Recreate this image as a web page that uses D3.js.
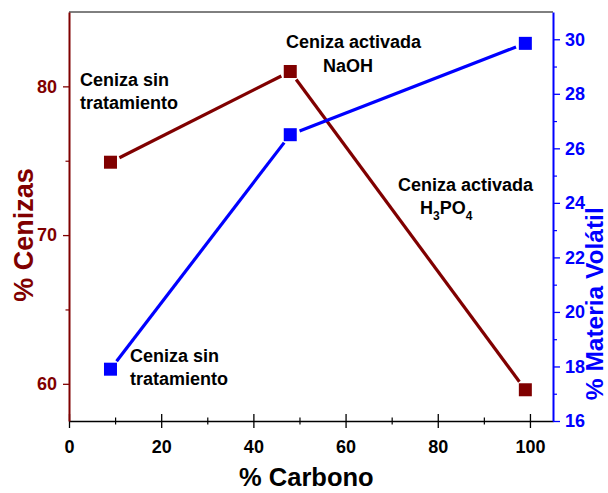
<!DOCTYPE html>
<html>
<head>
<meta charset="utf-8">
<script src="https://cdn.jsdelivr.net/npm/d3@7"></script>
<style>
  body { margin: 0; background: #fff; }
  svg text { font-family: Arial, "Liberation Sans", sans-serif; font-weight: bold; }
</style>
</head>
<body>
<div id="chart"></div>
<script>
// chart data
var carbono        = [9, 48, 99];          // % Carbono (x)
var cenizas        = [74.9, 81, 59.6];     // % Cenizas (left axis)
var materiaVolatil = [17.9, 26.5, 29.85];  // % Materia Volátil (right axis)

var xTicks      = [0, 20, 40, 60, 80, 100];
var xMinorTicks = [10, 30, 50, 70, 90];
var leftTicks      = [60, 70, 80];
var leftMinorTicks = [65, 75];
var rightTicks      = [16, 18, 20, 22, 24, 26, 28, 30];
var rightMinorTicks = [17, 19, 21, 23, 25, 27, 29];

var RED  = "#800000",
    BLUE = "#0000ff";

var W = 608, H = 493;
var margin = {top: 12, right: 55, bottom: 72, left: 69},
    width  = W - margin.left - margin.right,
    height = H - margin.top - margin.bottom;

var x = d3.scaleLinear().domain([0, 105]).range([margin.left, margin.left + width]);
var yL = d3.scaleLinear().domain([57.5, 85]).range([margin.top + height, margin.top]);
var yR = d3.scaleLinear().domain([16, 31]).range([margin.top + height, margin.top]);

var svg = d3.select("#chart").append("svg")
            .attr("width", W)
            .attr("height", H);

var x0 = margin.left, x1 = margin.left + width,
    yTop = margin.top, yBot = margin.top + height;

// top frame line
svg.append("line")
   .attr("x1", x0).attr("x2", x1)
   .attr("y1", yTop).attr("y2", yTop)
   .attr("stroke", "#000").attr("stroke-width", 1);

/* ---------- bottom axis ---------- */
var gx = svg.append("g")
            .attr("transform", "translate(0," + yBot + ")")
            .call(d3.axisBottom(x).tickValues(xTicks).tickSize(7).tickSizeOuter(0).tickPadding(12));
gx.selectAll(".tick line").attr("y1", -7).attr("stroke-width", 1.3);
gx.select(".domain").attr("stroke-width", 1.5);
gx.selectAll("text").attr("font-size", 18).attr("fill", "#000");

var gxm = svg.append("g")
             .attr("transform", "translate(0," + yBot + ")")
             .call(d3.axisBottom(x).tickValues(xMinorTicks).tickSize(3.5).tickFormat(""));
gxm.select(".domain").remove();
gxm.selectAll(".tick line").attr("y1", -3.5).attr("stroke-width", 1.2);

/* ---------- left axis ---------- */
var gl = svg.append("g")
            .attr("transform", "translate(" + x0 + ",0)")
            .call(d3.axisLeft(yL).tickValues(leftTicks).tickSize(6).tickSizeOuter(0).tickPadding(6));
gl.select(".domain").attr("stroke", RED).attr("stroke-width", 2);
gl.selectAll(".tick line").attr("stroke", RED).attr("stroke-width", 1.3);
gl.selectAll("text").attr("font-size", 18).attr("fill", RED);

var glm = svg.append("g")
             .attr("transform", "translate(" + x0 + ",0)")
             .call(d3.axisLeft(yL).tickValues(leftMinorTicks).tickSize(3.5).tickFormat(""));
glm.select(".domain").remove();
glm.selectAll(".tick line").attr("stroke", RED).attr("stroke-width", 1.2);

/* ---------- right axis ---------- */
var gr = svg.append("g")
            .attr("transform", "translate(" + x1 + ",0)")
            .call(d3.axisRight(yR).tickValues(rightTicks).tickSize(7).tickSizeOuter(0).tickPadding(5));
gr.select(".domain").attr("stroke", BLUE).attr("stroke-width", 2);
gr.selectAll(".tick line").attr("stroke", BLUE).attr("stroke-width", 1.3);
gr.selectAll("text").attr("font-size", 18).attr("fill", BLUE);

var grm = svg.append("g")
             .attr("transform", "translate(" + x1 + ",0)")
             .call(d3.axisRight(yR).tickValues(rightMinorTicks).tickSize(4).tickFormat(""));
grm.select(".domain").remove();
grm.selectAll(".tick line").attr("stroke", BLUE).attr("stroke-width", 1.2);

/* ---------- axis titles ---------- */
svg.append("text")
   .attr("transform", "translate(33," + (yL(70)) + ") rotate(-90)")
   .attr("text-anchor", "middle")
   .attr("font-size", 27)
   .attr("fill", RED)
   .text("% Cenizas");

svg.append("text")
   .attr("transform", "translate(603," + (yR(20.3)) + ") rotate(-90)")
   .attr("text-anchor", "middle")
   .attr("font-size", 24.5)
   .attr("fill", BLUE)
   .text("% Materia Volátil");

svg.append("text")
   .attr("x", x(51.5))
   .attr("y", 486)
   .attr("text-anchor", "middle")
   .attr("font-size", 25.5)
   .attr("fill", "#000")
   .text("% Carbono");

/* ---------- series ---------- */
function drawSeries(xs, ys, yScale, color) {
    var pts = xs.map(function(d, i) { return [x(d), yScale(ys[i])]; });
    var gap = 10; // line stops short of the markers

    for (var i = 0; i < pts.length - 1; i++) {
        var a = pts[i], b = pts[i + 1];
        var dx = b[0] - a[0], dy = b[1] - a[1];
        var len = Math.sqrt(dx * dx + dy * dy);
        var ux = dx / len, uy = dy / len;
        svg.append("line")
           .attr("x1", a[0] + ux * gap).attr("y1", a[1] + uy * gap)
           .attr("x2", b[0] - ux * gap).attr("y2", b[1] - uy * gap)
           .attr("stroke", color)
           .attr("stroke-width", 3.2);
    }

    var size = 13;
    svg.selectAll(null)
       .data(pts)
       .enter().append("rect")
       .attr("x", function(d) { return d[0] - size / 2; })
       .attr("y", function(d) { return d[1] - size / 2; })
       .attr("width", size)
       .attr("height", size)
       .attr("fill", color);
}

drawSeries(carbono, cenizas, yL, RED);
drawSeries(carbono, materiaVolatil, yR, BLUE);

/* ---------- annotations ---------- */
function label(lines, px, py, lh) {
    var t = svg.append("text")
               .attr("font-size", 18)
               .attr("fill", "#000");
    lines.forEach(function(s, i) {
        t.append("tspan").attr("x", px).attr("y", py + i * lh).text(s);
    });
    return t;
}

label(["Ceniza sin", "tratamiento"], 80, 86, 23);
label(["Ceniza sin", "tratamiento"], 130, 362, 22.5);

label(["Ceniza activada"], 286, 48, 0);
label(["NaOH"], 323, 72, 0);

label(["Ceniza activada"], 398, 191, 0);
var h3po4 = svg.append("text")
               .attr("x", 420).attr("y", 214)
               .attr("font-size", 18)
               .attr("fill", "#000");
h3po4.append("tspan").text("H");
h3po4.append("tspan").attr("font-size", 12).attr("dy", 6).text("3");
h3po4.append("tspan").attr("dy", -6).text("PO");
h3po4.append("tspan").attr("font-size", 12).attr("dy", 6).text("4");
</script>
</body>
</html>
